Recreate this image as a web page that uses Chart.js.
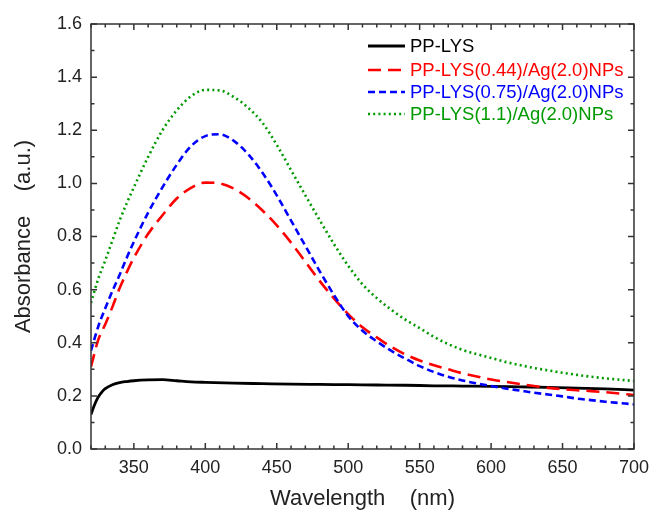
<!DOCTYPE html>
<html>
<head>
<meta charset="utf-8">
<script src="https://cdn.jsdelivr.net/npm/chart.js@4/dist/chart.umd.min.js"></script>
<style>
html,body{margin:0;padding:0;background:#fff;}
canvas{display:block;}
</style>
</head>
<body>
<canvas id="c" width="657" height="512"></canvas>
<script>
// ---- data ----
const wlCommon = [320,325,330,335,340,345,350,360,370,380,390,400,410,420,430,440,450,460,470,480,490,500,510,520,530,540,550,560,570,580,590,600,610,620,630,640,650,660,670,680,690,700];
const wlBlack  = [320,322,324,326,328,330,335,340,345,350,360,370,380,390,400,420,440,460,480,500,520,540,560,580,600,620,640,660,680,700];

const ppLys = [0.13,0.16,0.185,0.203,0.217,0.227,0.242,0.25,0.254,0.257,0.26,0.261,0.257,0.253,0.251,0.248,0.246,0.244,0.243,0.242,0.241,0.24,0.238,0.237,0.236,0.234,0.232,0.229,0.226,0.222];
const lys044 = [0.31,0.41,0.47,0.535,0.605,0.665,0.72,0.81,0.88,0.943,0.983,1.003,1.0,0.98,0.945,0.898,0.842,0.777,0.705,0.633,0.567,0.508,0.458,0.42,0.385,0.356,0.333,0.315,0.30,0.285,0.273,0.262,0.253,0.245,0.237,0.23,0.225,0.221,0.218,0.214,0.209,0.203];
const lys075 = [0.37,0.46,0.53,0.595,0.655,0.72,0.78,0.89,0.985,1.07,1.14,1.178,1.185,1.16,1.11,1.04,0.955,0.86,0.765,0.67,0.58,0.50,0.445,0.405,0.37,0.34,0.312,0.29,0.272,0.258,0.247,0.237,0.228,0.22,0.212,0.205,0.198,0.19,0.184,0.178,0.173,0.168];
const lys11 = [0.55,0.64,0.71,0.785,0.86,0.925,0.985,1.10,1.20,1.275,1.328,1.352,1.35,1.325,1.285,1.228,1.145,1.05,0.955,0.862,0.772,0.69,0.62,0.568,0.525,0.487,0.455,0.422,0.395,0.373,0.357,0.343,0.328,0.316,0.305,0.296,0.287,0.279,0.272,0.266,0.261,0.256];

const seriesNames = ['PP-LYS','PP-LYS(0.44)/Ag(2.0)NPs','PP-LYS(0.75)/Ag(2.0)NPs','PP-LYS(1.1)/Ag(2.0)NPs'];
const xTicks = [350,400,450,500,550,600,650,700];
const yTicks = [0.0,0.2,0.4,0.6,0.8,1.0,1.2,1.4,1.6];
const xTitle = 'Wavelength    (nm)';
const yTitle = 'Absorbance    (a.u.)';

const pts = (xs, ys) => xs.map((x, i) => ({x: x, y: ys[i]}));
const FONT = "'Liberation Sans', Arial, sans-serif";

const styles = [
  {color:'#000000', dash:[], width:2.8},
  {color:'#ff0000', dash:[13,7], width:2.6},
  {color:'#0000ff', dash:[7,4], width:2.6},
  {color:'#009a00', dash:[2,3.2], width:2.6}
];

const framePlugin = {
  id: 'frame',
  afterDatasetsDraw(chart) {
    const {ctx, chartArea: a, scales: {x, y}} = chart;
    ctx.save();
    ctx.strokeStyle = '#333';
    ctx.lineWidth = 1.5;
    ctx.setLineDash([]);
    ctx.strokeRect(a.left, a.top, a.right - a.left, a.bottom - a.top);
    ctx.beginPath();
    for (let v = 320; v <= 700; v += 10) {
      const px = x.getPixelForValue(v);
      const major = xTicks.includes(v);
      const L = major ? 6 : 3.5;
      ctx.moveTo(px, a.bottom); ctx.lineTo(px, a.bottom - L);
      ctx.moveTo(px, a.top); ctx.lineTo(px, a.top + L);
    }
    for (let k = 0; k <= 16; k++) {
      const v = k / 10;
      const py = y.getPixelForValue(v);
      const L = (k % 2 === 0) ? 6 : 3.5;
      ctx.moveTo(a.left, py); ctx.lineTo(a.left + L, py);
      ctx.moveTo(a.right, py); ctx.lineTo(a.right - L, py);
    }
    ctx.stroke();

    // legend
    const lx0 = 368, lx1 = 405, tx = 410;
    const rows = [46, 70, 92, 114];
    ctx.font = '18.5px ' + FONT;
    ctx.textBaseline = 'middle';
    ctx.textAlign = 'left';
    seriesNames.forEach((name, i) => {
      const s = styles[i];
      ctx.beginPath();
      ctx.strokeStyle = s.color;
      ctx.lineWidth = s.width;
      ctx.setLineDash(s.dash);
      ctx.moveTo(lx0, rows[i]); ctx.lineTo(lx1, rows[i]);
      ctx.stroke();
      ctx.setLineDash([]);
      ctx.fillStyle = s.color;
      ctx.fillText(name, tx, rows[i] + 1);
    });
    ctx.restore();
  }
};

const datasets = [
  {label: seriesNames[0], data: pts(wlBlack, ppLys)},
  {label: seriesNames[1], data: pts(wlCommon, lys044)},
  {label: seriesNames[2], data: pts(wlCommon, lys075)},
  {label: seriesNames[3], data: pts(wlCommon, lys11)}
].map((d, i) => Object.assign(d, {
  borderColor: styles[i].color,
  borderWidth: styles[i].width,
  borderDash: styles[i].dash,
  pointRadius: 0,
  fill: false,
  cubicInterpolationMode: 'monotone',
  order: 3 - i
}));

new Chart(document.getElementById('c'), {
  type: 'line',
  data: {datasets: datasets},
  options: {
    responsive: false,
    animation: false,
    layout: {padding: {top: 24, right: 18, left: 0, bottom: 0}},
    plugins: {legend: {display: false}, tooltip: {enabled: false}},
    scales: {
      x: {
        type: 'linear', min: 320, max: 700,
        grid: {display: false, drawTicks: false},
        border: {display: false},
        afterBuildTicks: s => { s.ticks = xTicks.map(v => ({value: v})); },
        afterFit: s => { s.height = 63; },
        ticks: {color: '#222', font: {family: FONT, size: 18}, padding: 8, maxRotation: 0, autoSkip: false,
                callback: v => String(v)},
        title: {display: true, text: xTitle, color: '#222', font: {family: FONT, size: 22}, padding: {top: 0, bottom: 0}}
      },
      y: {
        type: 'linear', min: 0, max: 1.6,
        grid: {display: false, drawTicks: false},
        border: {display: false},
        afterBuildTicks: s => { s.ticks = yTicks.map(v => ({value: v})); },
        afterFit: s => { s.width = 91; },
        ticks: {color: '#222', font: {family: FONT, size: 18}, padding: 9, autoSkip: false,
                callback: v => Number(v).toFixed(1)},
        title: {display: true, text: yTitle, color: '#222', font: {family: FONT, size: 22}, padding: {top: 11, bottom: 0}}
      }
    }
  },
  plugins: [framePlugin]
});
</script>
</body>
</html>
